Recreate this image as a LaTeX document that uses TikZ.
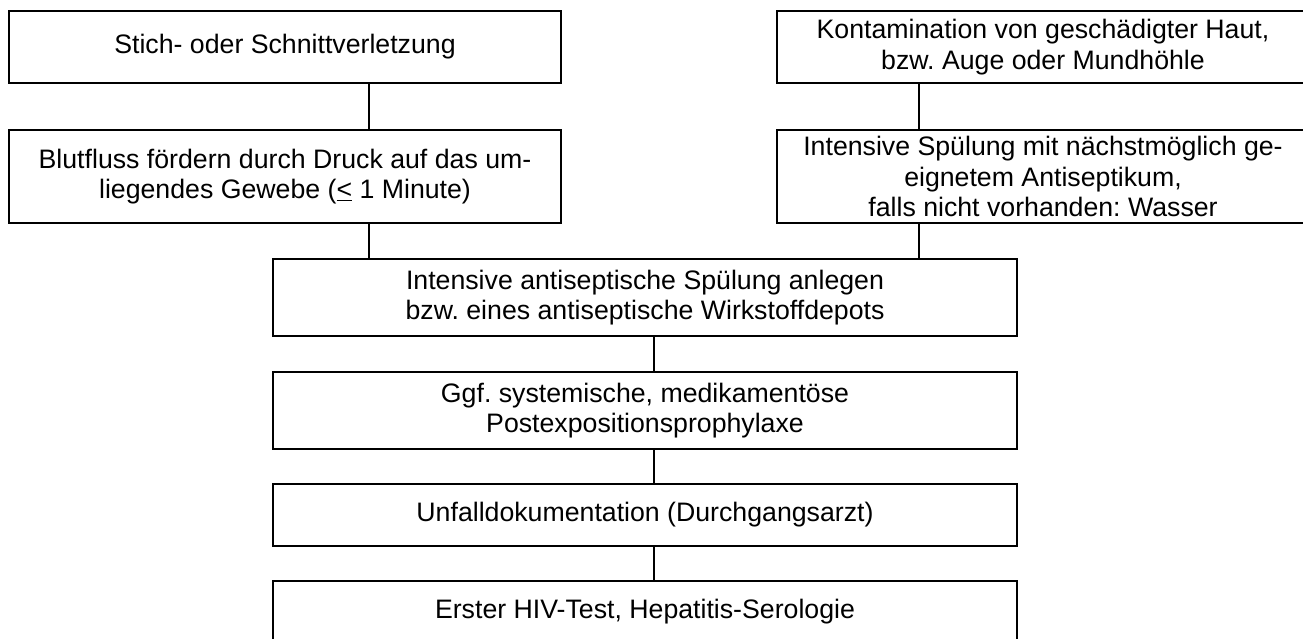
\documentclass[tikz,border=0pt]{standalone}
\usepackage{fontspec}
\setmainfont{Liberation Sans}
\frenchspacing
\begin{document}
\begin{tikzpicture}[x=1pt,y=-1pt,
  box/.style={draw=black, line width=2pt, inner sep=0pt, align=center,
    font=\fontsize{26.7}{30.7}\selectfont\frenchspacing},
  link/.style={draw=black, line width=1.5pt}]
\useasboundingbox (0,0) rectangle (1303,639);
\fill[white] (0,0) rectangle (1303,639);
\clip (0,0) rectangle (1303,639);
\node[box, minimum width=552pt, minimum height=72pt] (A) at (285,47) {Stich- oder Schnittverletzung};
\node[box, minimum width=552pt, minimum height=93pt] (C) at (285,176.5) {Blutfluss fördern durch Druck auf das um-\\liegendes Gewebe (\underline{<} 1 Minute)};
\node[box, minimum width=532pt, minimum height=72pt] (B) at (1043,47) {Kontamination von geschädigter Haut,\\bzw. Auge oder Mundhöhle};
\node[box, minimum width=532pt, minimum height=93pt] (D) at (1043,176.5) {Intensive Spülung mit nächstmöglich ge-\\eignetem Antiseptikum,\\falls nicht vorhanden: Wasser};
\node[box, minimum width=744pt, minimum height=77pt] (E) at (645,297.5) {Intensive antiseptische Spülung anlegen\\bzw. eines antiseptische Wirkstoffdepots};
\node[box, minimum width=744pt, minimum height=77pt] (F) at (645,410.5) {Ggf. systemische, medikamentöse\\Postexpositionsprophylaxe};
\node[box, minimum width=744pt, minimum height=62pt] (G) at (645,515) {Unfalldokumentation (Durchgangsarzt)};
\node[box, minimum width=744pt, minimum height=62pt] (H) at (645,612) {Erster HIV-Test, Hepatitis-Serologie};
\coordinate (xl) at (369,0);
\coordinate (xr) at (919,0);
\coordinate (xm) at (654,0);
\draw[link] (A.south -| xl) -- (C.north -| xl);
\draw[link] (B.south -| xr) -- (D.north -| xr);
\draw[link] (C.south -| xl) -- (E.north -| xl);
\draw[link] (D.south -| xr) -- (E.north -| xr);
\draw[link] (E.south -| xm) -- (F.north -| xm);
\draw[link] (F.south -| xm) -- (G.north -| xm);
\draw[link] (G.south -| xm) -- (H.north -| xm);
\end{tikzpicture}
\end{document}
